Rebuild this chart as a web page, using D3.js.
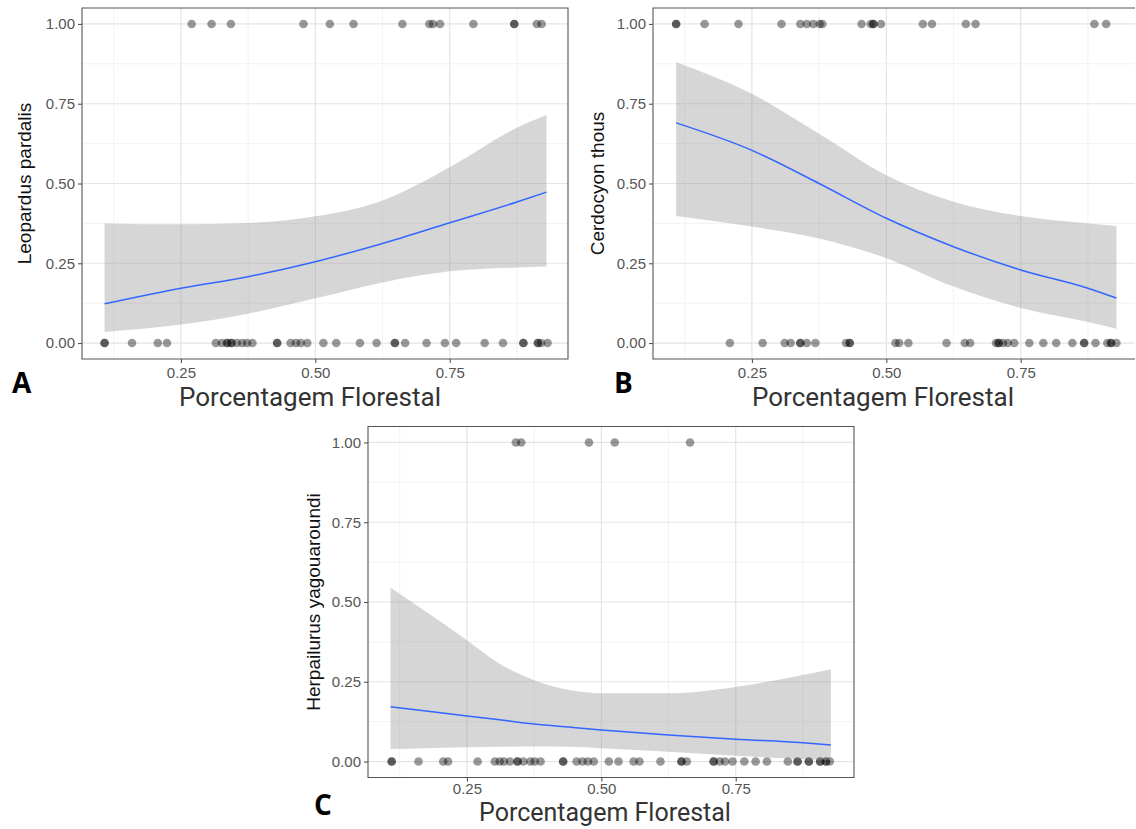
<!DOCTYPE html>
<html><head><meta charset="utf-8">
<script src="https://cdn.jsdelivr.net/npm/d3@7"></script>
<style>body{margin:0;background:#fff}svg{display:block}</style>
</head><body><svg id="chart" width="1136" height="829"></svg>
<script>
// ---------- data ----------
const xTicks = [0.25, 0.5, 0.75];
const xTickLabels = ["0.25", "0.50", "0.75"];
const yTicks = [0, 0.25, 0.5, 0.75, 1];
const yTickLabels = ["0.00", "0.25", "0.50", "0.75", "1.00"];
const xMinor = [0.125, 0.375, 0.625, 0.875];
const yMinor = [0.125, 0.375, 0.625, 0.875];
const xTitle = "Porcentagem Florestal";
const speciesNames = ["Leopardus pardalis", "Cerdocyon thous", "Herpailurus yagouaroundi"];
const panelLetters = ["A", "B", "C"];

// Panel A – Leopardus pardalis
const aPresence = [0.270, 0.307, 0.343, 0.478, 0.527, 0.571, 0.662, 0.712, 0.719, 0.732, 0.794, 0.870, 0.870, 0.912, 0.921];
const aAbsence = [0.108, 0.108, 0.159, 0.207, 0.224, 0.315, 0.326, 0.336, 0.336, 0.344, 0.344, 0.354, 0.364, 0.373, 0.383, 0.429, 0.429, 0.454, 0.464, 0.473, 0.485, 0.515, 0.539, 0.583, 0.614, 0.648, 0.648, 0.667, 0.707, 0.741, 0.762, 0.815, 0.849, 0.887, 0.887, 0.914, 0.914, 0.920, 0.932];
const aCurveX = [0.108, 0.25, 0.375, 0.5, 0.625, 0.75, 0.875, 0.93];
const aFit   = [0.123, 0.172, 0.208, 0.255, 0.312, 0.377, 0.442, 0.473];
const aLower = [0.035, 0.058, 0.092, 0.140, 0.190, 0.225, 0.237, 0.240];
const aUpper = [0.375, 0.372, 0.376, 0.397, 0.447, 0.551, 0.675, 0.715];

// Panel B – Cerdocyon thous
const bPresence = [0.109, 0.109, 0.162, 0.225, 0.305, 0.340, 0.352, 0.364, 0.376, 0.381, 0.454, 0.471, 0.476, 0.476, 0.490, 0.568, 0.585, 0.648, 0.666, 0.887, 0.909];
const bAbsence = [0.209, 0.270, 0.311, 0.322, 0.340, 0.340, 0.352, 0.368, 0.425, 0.432, 0.432, 0.517, 0.524, 0.541, 0.612, 0.646, 0.656, 0.704, 0.709, 0.709, 0.717, 0.726, 0.738, 0.766, 0.792, 0.816, 0.846, 0.868, 0.868, 0.889, 0.911, 0.918, 0.918, 0.928];
const bCurveX = [0.109, 0.25, 0.375, 0.5, 0.625, 0.75, 0.875, 0.928];
const bFit   = [0.690, 0.604, 0.500, 0.391, 0.302, 0.229, 0.172, 0.141];
const bLower = [0.398, 0.365, 0.328, 0.266, 0.177, 0.110, 0.066, 0.045];
const bUpper = [0.880, 0.781, 0.656, 0.526, 0.443, 0.398, 0.375, 0.367];

// Panel C – Herpailurus yagouaroundi
const cPresence = [0.341, 0.351, 0.477, 0.525, 0.665];
const cAbsence = [0.110, 0.110, 0.160, 0.206, 0.215, 0.270, 0.302, 0.311, 0.319, 0.330, 0.344, 0.344, 0.355, 0.368, 0.376, 0.387, 0.429, 0.429, 0.454, 0.465, 0.475, 0.486, 0.514, 0.532, 0.560, 0.571, 0.610, 0.649, 0.649, 0.659, 0.709, 0.709, 0.720, 0.730, 0.744, 0.766, 0.787, 0.808, 0.847, 0.865, 0.865, 0.886, 0.886, 0.907, 0.907, 0.918, 0.918, 0.925];
const cCurveX = [0.108, 0.17, 0.25, 0.31, 0.375, 0.44, 0.5, 0.625, 0.75, 0.875, 0.927];
const cFit   = [0.172, 0.159, 0.143, 0.131, 0.118, 0.108, 0.099, 0.083, 0.070, 0.059, 0.052];
const cLower = [0.039, 0.042, 0.045, 0.046, 0.047, 0.046, 0.042, 0.031, 0.018, 0.008, 0.005];
const cUpper = [0.545, 0.474, 0.380, 0.307, 0.255, 0.224, 0.214, 0.214, 0.234, 0.271, 0.289];

// ---------- layout ----------
const xDomain = [0.066, 0.970];
const yDomain = [-0.05, 1.05];
const panels = [
  {name: speciesNames[0], letter: panelLetters[0], pres: aPresence, abs: aAbsence, cx: aCurveX, fit: aFit, lo: aLower, hi: aUpper,
   left: 82, top: 8, w: 486, h: 351, yTitleX: 24, titleX: 310, titleY: 406, titleSize: 26, letterX: 12, letterY: 393, tickPad: 4},
  {name: speciesNames[1], letter: panelLetters[1], pres: bPresence, abs: bAbsence, cx: bCurveX, fit: bFit, lo: bLower, hi: bUpper,
   left: 653, top: 8, w: 486, h: 351, yTitleX: 597, titleX: 883, titleY: 406, titleSize: 26, letterX: 614, letterY: 393, tickPad: 4},
  {name: speciesNames[2], letter: panelLetters[2], pres: cPresence, abs: cAbsence, cx: cCurveX, fit: cFit, lo: cLower, hi: cUpper,
   left: 368, top: 426.5, w: 486, h: 351, yTitleX: 313, titleX: 605, titleY: 821, titleSize: 25, letterX: 314, letterY: 815, tickPad: 1.5}
];

const svg = d3.select("#chart");
const W = 1136;
const tickFont = "'Liberation Sans', Arial, sans-serif";
const titleFont = "Roboto, 'Open Sans', sans-serif";

panels.forEach((p, i) => {
  const x = d3.scaleLinear().domain(xDomain).range([p.left, p.left + p.w]);
  const y = d3.scaleLinear().domain(yDomain).range([p.top + p.h, p.top]);
  const right = Math.min(p.left + p.w, W - 1);
  const g = svg.append("g");
  const clipId = "clip" + i;
  svg.append("clipPath").attr("id", clipId).append("rect")
    .attr("x", p.left).attr("y", p.top).attr("width", right - p.left).attr("height", p.h);
  const inner = g.append("g").attr("clip-path", `url(#${clipId})`);

  // grid
  inner.selectAll(".vmin").data(xMinor).join("line")
    .attr("x1", d => x(d)).attr("x2", d => x(d)).attr("y1", p.top).attr("y2", p.top + p.h)
    .attr("stroke", "#efefef").attr("stroke-width", 0.8);
  inner.selectAll(".hmin").data(yMinor).join("line")
    .attr("y1", d => y(d)).attr("y2", d => y(d)).attr("x1", p.left).attr("x2", right)
    .attr("stroke", "#efefef").attr("stroke-width", 0.8);
  inner.selectAll(".vmaj").data(xTicks).join("line")
    .attr("x1", d => x(d)).attr("x2", d => x(d)).attr("y1", p.top).attr("y2", p.top + p.h)
    .attr("stroke", "#e4e4e4").attr("stroke-width", 1.2);
  inner.selectAll(".hmaj").data(yTicks).join("line")
    .attr("y1", d => y(d)).attr("y2", d => y(d)).attr("x1", p.left).attr("x2", right)
    .attr("stroke", "#e4e4e4").attr("stroke-width", 1.2);

  // points
  const pts = p.pres.map(v => ({x: v, y: 1})).concat(p.abs.map(v => ({x: v, y: 0})));
  inner.selectAll(".pt").data(pts).join("circle")
    .attr("cx", d => x(d.x)).attr("cy", d => y(d.y)).attr("r", 4.3)
    .attr("fill", "#000").attr("fill-opacity", 0.4);

  // band + fitted line
  const curve = p.cx.map((v, k) => ({x: v, fit: p.fit[k], lo: p.lo[k], hi: p.hi[k]}));
  inner.append("path").datum(curve)
    .attr("d", d3.area().x(d => x(d.x)).y0(d => y(d.lo)).y1(d => y(d.hi)).curve(d3.curveMonotoneX))
    .attr("fill", "#999999").attr("fill-opacity", 0.4);
  inner.append("path").datum(curve)
    .attr("d", d3.line().x(d => x(d.x)).y(d => y(d.fit)).curve(d3.curveMonotoneX))
    .attr("fill", "none").attr("stroke", "#3366FF").attr("stroke-width", 1.5);

  // border
  g.append("path")
    .attr("d", right < p.left + p.w
      ? `M${right},${p.top}H${p.left}V${p.top + p.h}H${right}`
      : `M${p.left},${p.top}H${right}V${p.top + p.h}H${p.left}Z`)
    .attr("fill", "none").attr("stroke", "#555").attr("stroke-width", 1.1);

  // axes
  const xAxis = d3.axisBottom(x).tickValues(xTicks).tickFormat((d, k) => xTickLabels[k]).tickSize(4).tickPadding(p.tickPad);
  const gx = g.append("g").attr("transform", `translate(0,${p.top + p.h})`).call(xAxis);
  const yAxis = d3.axisLeft(y).tickValues(yTicks).tickFormat((d, k) => yTickLabels[k]).tickSize(4).tickPadding(3);
  const gy = g.append("g").attr("transform", `translate(${p.left},0)`).call(yAxis);
  [gx, gy].forEach(a => {
    a.select(".domain").remove();
    a.selectAll(".tick line").attr("stroke", "#555").attr("stroke-width", 1.1);
    a.selectAll(".tick text").attr("fill", "#555").style("font-family", tickFont).style("font-size", "15px");
  });

  // y title
  g.append("text")
    .attr("transform", `translate(${p.yTitleX},${p.top + p.h / 2}) rotate(-90)`)
    .attr("text-anchor", "middle").attr("dominant-baseline", "central")
    .style("font-family", tickFont).style("font-size", "19px").attr("fill", "#111")
    .text(p.name);

  // x title (overlay)
  g.append("text").attr("x", p.titleX).attr("y", p.titleY)
    .attr("text-anchor", "middle")
    .style("font-family", titleFont).style("font-size", p.titleSize + "px").attr("fill", "#333")
    .text(xTitle);

  // panel letter
  g.append("text").attr("x", p.letterX).attr("y", p.letterY)
    .style("font-family", "'Open Sans', 'Noto Sans', sans-serif").style("font-weight", "700").style("font-size", "28px").attr("fill", "#000")
    .text(p.letter);
});
</script>
</body></html>
